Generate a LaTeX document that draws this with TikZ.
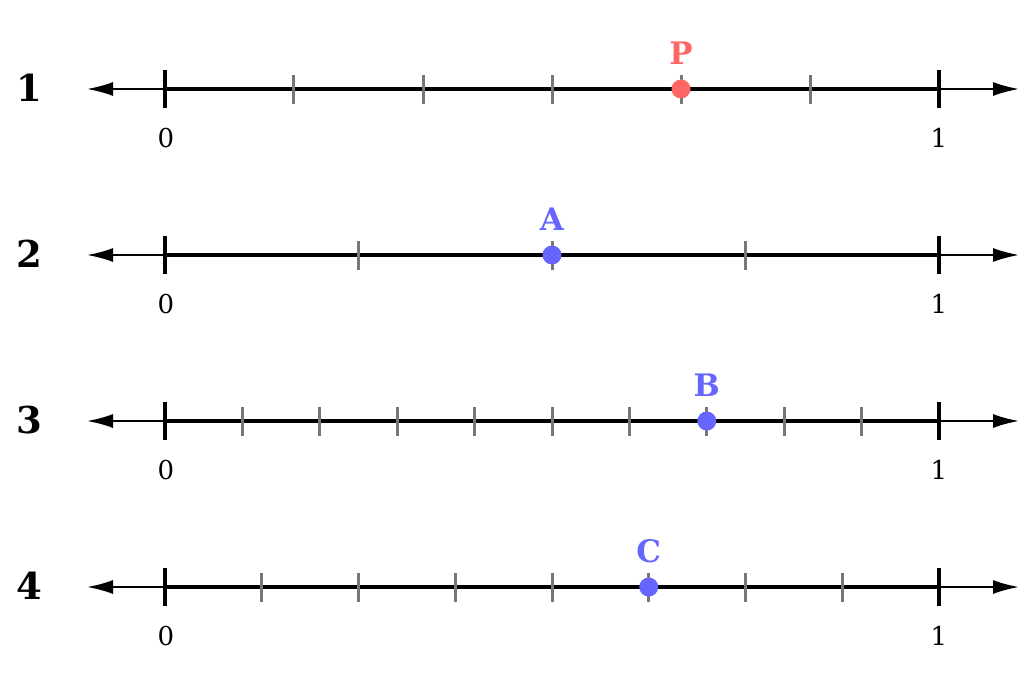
\documentclass[tikz,border=0pt]{standalone}
\usepackage{fontspec}
\setmainfont{DejaVu Serif}
\usetikzlibrary{arrows.meta, calc}
\definecolor{ptred}{RGB}{255,102,102}
\definecolor{ptblue}{RGB}{102,102,255}
\definecolor{tickgray}{RGB}{119,119,119}

\tikzset{
  axisline/.style={line width=2pt, {Latex[length=26pt,width=14pt]}-{Latex[length=26pt,width=14pt]}},
  unitline/.style={line width=4pt},
  endtick/.style={line width=4pt},
  minortick/.style={line width=3pt, tickgray},
  endlabel/.style={font=\fontsize{26}{30}\selectfont, inner sep=0pt},
  rowlabel/.style={font=\fontsize{37}{40}\selectfont\bfseries, inner sep=0pt},
  ptlabel/.style={font=\fontsize{31}{34}\selectfont\bfseries, inner sep=0pt},
  ptdot/.style={circle, inner sep=0pt, minimum size=19pt}
}

\begin{document}
\begin{tikzpicture}[x=1pt, y=-1pt]
  \useasboundingbox (0,0) rectangle (1032,677);
  \foreach \row/\y/\n/\k/\lab/\col in {1/89/6/4/P/ptred, 2/255/4/2/A/ptblue,
                                       3/421/10/7/B/ptblue, 4/587/8/5/C/ptblue}{
    \coordinate (left\row) at (87,\y);
    \coordinate (right\row) at (1019,\y);
    \coordinate (zero\row) at (165,\y);
    \coordinate (one\row) at (939,\y);
    % number line
    \draw[axisline] (left\row) -- (right\row);
    \draw[unitline] (zero\row) -- (one\row);
    % minor ticks
    \pgfmathtruncatemacro\m{\n-1}
    \foreach \i in {1,...,\m}
      \draw[minortick] ($(zero\row)!\i/\n!(one\row)$) ++(0,-14) -- ++(0,29);
    % end ticks
    \draw[endtick] (zero\row) ++(0,-19) -- ++(0,38);
    \draw[endtick] (one\row) ++(0,-19) -- ++(0,38);
    \node[endlabel] (zlab\row) at ($(zero\row)+(1,49)$) {0};
    \node[endlabel] (olab\row) at ($(one\row)+(0,49)$) {1};
    \node[rowlabel] (num\row) at (29,\y-1) {\row};
    % the point
    \node[ptdot, fill=\col] (pt\row) at ($(zero\row)!\k/\n!(one\row)$) {};
    \node[ptlabel, text=\col] (plab\row) at ($(pt\row)+(0,-36)$) {\lab};
  }
\end{tikzpicture}
\end{document}
